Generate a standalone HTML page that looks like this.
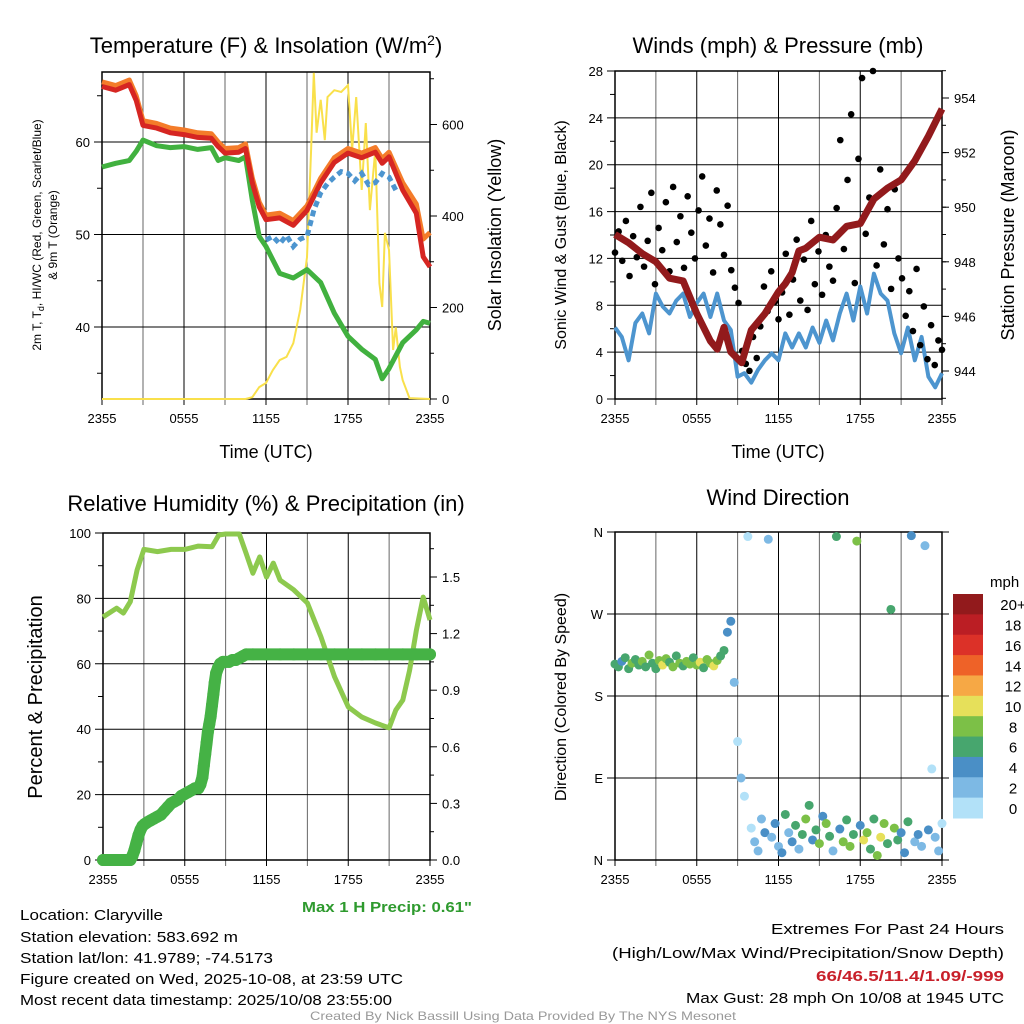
<!DOCTYPE html>
<html><head><meta charset="utf-8"><style>
html,body{margin:0;padding:0;background:#fff;}
svg{display:block;font-family:"Liberation Sans",Arial,sans-serif;}
</style></head><body>
<svg id="fig" width="1024" height="1024" viewBox="0 0 1024 1024" xmlns="http://www.w3.org/2000/svg">
<g id="static">
<text x="266" y="53" font-size="22" text-anchor="middle">Temperature (F) &amp; Insolation (W/m<tspan dy="-8" font-size="14">2</tspan><tspan dy="8">)</tspan></text>
<text x="778" y="53" font-size="22" text-anchor="middle">Winds (mph) &amp; Pressure (mb)</text>
<text x="266" y="511" font-size="22" text-anchor="middle">Relative Humidity (%) &amp; Precipitation (in)</text>
<text x="778" y="505" font-size="22" text-anchor="middle">Wind Direction</text>
<text x="266" y="458" font-size="18" text-anchor="middle">Time (UTC)</text>
<text x="778" y="458" font-size="18" text-anchor="middle">Time (UTC)</text>
<text transform="translate(41,235) rotate(-90)" font-size="12" text-anchor="middle">2m T, T<tspan font-size="9" dy="3">d</tspan><tspan dy="-3">, HI/WC (Red, Green, Scarlet/Blue)</tspan></text>
<text transform="translate(57,235) rotate(-90)" font-size="12" text-anchor="middle">&amp; 9m T (Orange)</text>
<text transform="translate(501,235) rotate(-90)" font-size="18" text-anchor="middle">Solar Insolation (Yellow)</text>
<text transform="translate(566,235) rotate(-90)" font-size="16" text-anchor="middle">Sonic Wind &amp; Gust (Blue, Black)</text>
<text transform="translate(1014,235) rotate(-90)" font-size="18" text-anchor="middle">Station Pressure (Maroon)</text>
<text transform="translate(42,697) rotate(-90)" font-size="20" text-anchor="middle">Percent &amp; Precipitation</text>
<text transform="translate(566,697) rotate(-90)" font-size="16" text-anchor="middle">Direction (Colored By Speed)</text>
<text x="472" y="912" font-size="15" font-weight="bold" fill="#2e9a2e" text-anchor="end" textLength="170" lengthAdjust="spacingAndGlyphs">Max 1 H Precip: 0.61"</text>
<g font-size="15">
<text x="20" y="920" textLength="143" lengthAdjust="spacingAndGlyphs">Location: Claryville</text>
<text x="20" y="942" textLength="218" lengthAdjust="spacingAndGlyphs">Station elevation: 583.692 m</text>
<text x="20" y="963" textLength="253" lengthAdjust="spacingAndGlyphs">Station lat/lon: 41.9789; -74.5173</text>
<text x="20" y="984" textLength="383" lengthAdjust="spacingAndGlyphs">Figure created on Wed, 2025-10-08, at 23:59 UTC</text>
<text x="20" y="1005" textLength="372" lengthAdjust="spacingAndGlyphs">Most recent data timestamp: 2025/10/08 23:55:00</text>
</g>
<g font-size="15" text-anchor="end">
<text x="1024" dx="-20" y="934" textLength="233" lengthAdjust="spacingAndGlyphs">Extremes For Past 24 Hours</text>
<text x="1024" dx="-20" y="958" textLength="392" lengthAdjust="spacingAndGlyphs">(High/Low/Max Wind/Precipitation/Snow Depth)</text>
<text x="1024" dx="-20" y="981" fill="#c8202a" font-weight="bold" textLength="188" lengthAdjust="spacingAndGlyphs">66/46.5/11.4/1.09/-999</text>
<text x="1024" dx="-20" y="1003" textLength="318" lengthAdjust="spacingAndGlyphs">Max Gust: 28 mph On 10/08 at 1945 UTC</text>
</g>
<text x="523" y="1020" font-size="12" fill="#999" text-anchor="middle" textLength="426" lengthAdjust="spacingAndGlyphs">Created By Nick Bassill Using Data Provided By The NYS Mesonet</text>
<text x="990" y="587" font-size="15">mph</text>
</g>
</svg>
<script>
// ===== DATA =====
var timeLabels = ["2355","0555","1155","1755","2355"];
// Panel 1
var tempT = [0,1,2,2.5,3,4,5,6,7,8,8.5,9,10,10.5,11,11.5,12,13,14,15,16,17,18,19,20,20.5,21,22,23,23.5,24];
var temp2m = [66.0,65.6,66.2,64.5,61.8,61.5,61.0,60.8,60.5,60.4,59.5,58.8,58.9,59.3,55.6,53.0,51.6,51.8,51.0,52.6,55.6,57.8,58.8,58.3,58.9,57.7,58.4,54.8,52.3,47.6,46.5];
var temp9m = [66.5,66.1,66.7,65.0,62.3,62.0,61.5,61.3,61.0,60.9,60.0,59.3,59.4,59.8,56.1,53.5,52.1,52.3,51.5,53.1,56.1,58.3,59.3,58.8,59.4,58.2,58.9,55.6,53.3,49.5,50.2];
var dewpt = [57.3,57.7,58.0,59.0,60.2,59.6,59.4,59.5,59.2,59.4,58.0,58.3,58.0,58.4,53.7,49.8,48.7,45.8,45.3,46.2,44.8,41.5,39.0,37.6,36.5,34.4,35.5,38.3,39.7,40.6,40.4];
var hiwcT = [12,12.5,13,13.5,14,14.5,15,15.5,16,16.5,17,17.5,18,18.5,19,19.5,20,20.5,21,21.5];
var hiwc = [49.4,49.8,49.0,49.9,48.7,49.5,49.8,52.6,54.5,55.5,56.2,56.8,56.6,55.8,56.6,55.4,55.6,56.6,56.2,54.8];
var solarT = [0,10.5,11,11.5,12,12.5,13,13.5,14,14.5,15,15.3,15.5,15.7,16,16.3,16.5,17,17.5,18,18.3,18.6,19,19.3,19.6,20,20.3,20.5,20.7,21,21.3,21.5,21.8,22,22.5,24];
var solarV = [0,0,4,26,35,63,85,92,122,195,310,544,713,582,654,566,660,675,671,686,544,660,457,603,413,544,253,201,363,326,107,157,70,41,2,0];
var tempTicks = [40,50,60];
var solarTicks = [0,200,400,600];
// Panel 2
var windV = [6.1,5.3,3.3,6.5,7.3,5.6,9.0,7.9,7.3,8.4,9.0,7.0,8.2,9.0,7.0,9.0,6.7,5.9,1.9,2.2,1.4,2.5,3.3,3.9,3.3,5.6,4.4,5.6,4.4,6.1,4.8,6.7,5.0,7.3,9.0,6.7,9.6,7.3,10.7,9.0,8.4,5.6,3.9,6.1,3.3,5.3,1.9,1.0,2.2];
var pressT = [0,1,2,3,4,5,6,7,7.5,8,8.5,9.3,10,11,12,12.5,13,13.5,14,15,16,17,18,19,20,21,22,23,24];
var pressV = [949.0,948.7,948.3,948.0,947.4,947.3,946.1,945.1,944.8,945.6,944.7,944.3,945.5,946.1,946.9,947.2,947.6,948.4,948.5,948.9,948.8,949.3,949.4,950.3,950.7,951.0,951.7,952.6,953.6];
var gustV = [12.5,14.3,11.8,15.2,10.5,13.9,12.1,16.4,11.3,13.5,17.6,9.8,14.6,12.7,16.8,10.9,18.1,13.4,15.6,11.2,17.3,14.2,12.0,16.1,19.0,13.1,15.4,10.8,17.8,14.9,12.3,16.5,11.0,9.5,8.2,4.1,3.0,2.4,5.3,3.5,6.2,9.6,7.5,10.9,8.3,6.8,9.1,12.4,7.2,10.2,13.6,8.4,11.9,7.6,15.2,9.8,12.6,8.9,14.0,11.3,10.1,16.3,22.1,12.8,18.7,24.3,9.9,20.5,27.4,14.1,17.2,28.0,11.4,19.6,13.2,16.2,9.4,17.9,12.0,10.3,7.1,9.2,5.8,11.1,4.6,7.9,3.4,6.3,2.9,5.0,4.2];
var windTicks = [0,4,8,12,16,20,24,28];
var pressTicks = [944,946,948,950,952,954];
// Panel 3
var rhT = [0,1,1.5,2,2.5,3,4,5,6,7,8,8.5,9,10,10.5,11,11.5,12,12.5,13,14,15,16,17,18,19,20,21,21.5,22,22.5,23,23.5,24];
var rhV = [74.3,77,75.5,79,88.7,95,94.3,95,95,96,95.8,99.4,99.7,99.7,93.8,87.7,92.7,86.5,90.8,85.6,82.6,78.6,68.2,56,46.8,43.7,41.9,40.4,45.9,48.9,58,70.3,80.4,73.4];
var precipT = [0,0.25,0.5,0.75,1,1.25,1.5,1.75,2,2.15,2.3,2.45,2.6,2.75,2.9,3.05,3.25,3.5,3.75,4,4.25,4.5,4.75,5,5.25,5.5,5.75,6,6.25,6.5,6.75,7,7.15,7.3,7.4,7.5,7.6,7.7,7.8,7.9,8.0,8.1,8.2,8.3,8.45,8.6,8.8,9,9.25,9.5,9.75,10,10.25,10.5,11,12,13,14,15,16,17,18,19,20,21,22,23,24];
var precipV = [0,0,0,0,0,0,0,0,0,0.02,0.05,0.09,0.13,0.16,0.18,0.19,0.20,0.21,0.22,0.23,0.24,0.26,0.28,0.30,0.31,0.32,0.34,0.35,0.36,0.37,0.38,0.38,0.40,0.44,0.50,0.56,0.62,0.68,0.72,0.76,0.82,0.88,0.94,0.99,1.02,1.04,1.05,1.05,1.05,1.06,1.06,1.07,1.08,1.09,1.09,1.09,1.09,1.09,1.09,1.09,1.09,1.09,1.09,1.09,1.09,1.09,1.09,1.09];
var rhTicks = [0,20,40,60,80,100];
var precipTicks = ["0.0","0.3","0.6","0.9","1.2","1.5"];
// Panel 4
var dirV = [215,212,218,222,210,216,220,214,218,212,225,216,210,219,214,221,217,212,224,216,213,218,215,222,214,217,211,220,216,213,219,224,230,250,262,195,130,90,70,355,35,20,10,45,30,352,25,40,15,8,50,30,20,38,12,28,45,60,22,33,18,48,40,26,10,355,34,20,44,15,28,350,38,22,30,12,45,5,25,40,18,275,35,22,30,8,42,356,20,28,15,345,33,100,25,10,40];
var dirSpd = [6,7,4,7,6,8,7,6,9,7,8,6,7,9,10,8,7,9,6,8,7,8,9,7,8,10,7,8,9,10,8,7,6,4,4,2,0,3,1,1,1,2,3,2,4,3,2,5,3,4,6,2,5,7,3,6,8,6,4,7,9,5,8,7,3,6,5,8,6,9,7,8,5,10,8,6,7,9,10,8,6,6,9,7,5,4,6,4,3,5,2,3,4,1,3,2,1];
var dirLabels = ["N","E","S","W","N"];
var speedBins = ["0","2","4","6","8","10","12","14","16","18","20+"];
var speedColors = ["#b2e1f8","#7db9e4","#4a8fc6","#47a66e","#7cc047","#e6e05a","#f6a845","#ee6228","#dc3128","#bb1e24","#921a1c"];

// ===== DRAWING =====
var NS="http://www.w3.org/2000/svg", svg=document.getElementById('fig');
function mk(tag,attrs,parent){var e=document.createElementNS(NS,tag);for(var k in attrs)e.setAttribute(k,attrs[k]);(parent||svg).appendChild(e);return e;}
function linScale(d0,d1,r0,r1){return function(v){return r0+(v-d0)*(r1-r0)/(d1-d0);};}
function pathFrom(ts,vs,xs,ys){var d="";for(var i=0;i<vs.length;i++){if(vs[i]==null)continue;d+=(d?"L":"M")+xs(ts[i]).toFixed(1)+","+ys(vs[i]).toFixed(1);}return d;}
function evenT(n){var a=[];for(var i=0;i<n;i++)a.push(i*24/(n-1));return a;}

function frame(P,name){
  var g=mk('g',{});
  
  
  for(var h=0;h<=24;h+=3){var x=P.xs(h);
    var l=mk('line',{x1:x,x2:x,y1:P.y0,y2:P.y1+6,stroke:(h%6==0?'#000':'#666'),'stroke-width':1},g);
    
    
  }
  for(var i=0;i<timeLabels.length;i++){
    var t=mk('text',{x:P.xs(i*6),y:P.y1+24,'font-size':13,'text-anchor':'middle'},g);t.textContent=timeLabels[i];
    
    
  }
  return g;
}
function border(P,g){mk('rect',{x:P.x0,y:P.y0,width:P.x1-P.x0,height:P.y1-P.y0,fill:'none',stroke:'#000','stroke-width':1.5},g);}
function leftAxis(P,g,vals,labels,ys){
  for(var i=0;i<vals.length;i++){var y=ys(vals[i]);
    var l=mk('line',{x1:P.x0-8,x2:P.x1,y1:y,y2:y,stroke:'#000','stroke-width':1},g);
    
    
    var t=mk('text',{x:P.x0-12,y:y+5,'font-size':13,'text-anchor':'end'},g);t.textContent=labels[i];
    
    
  }
}
function rightAxis(P,g,vals,labels,ys){
  for(var i=0;i<vals.length;i++){var y=ys(vals[i]);
    mk('line',{x1:P.x1,x2:P.x1+7,y1:y,y2:y,stroke:'#000','stroke-width':1},g);
    var t=mk('text',{x:P.x1+12,y:y+5,'font-size':13},g);t.textContent=labels[i];
    
    
  }
}

// Panel 1
var P1={x0:102,x1:430,y0:72,y1:399};P1.xs=linScale(0,24,102,430);
var y1T=linScale(40,60,327,142), y1S=linScale(0,200,399,307.5);
var g1=frame(P1,'temp');
leftAxis(P1,g1,tempTicks,tempTicks,y1T);
for(var v=35;v<=65;v+=10)mk('line',{x1:P1.x0-5,x2:P1.x0,y1:y1T(v),y2:y1T(v),stroke:'#000'},g1);
rightAxis(P1,g1,solarTicks,solarTicks,y1S);
for(var v=100;v<=700;v+=200)mk('line',{x1:P1.x1,x2:P1.x1+4,y1:y1S(v),y2:y1S(v),stroke:'#000'},g1);
var s=mk('path',{d:pathFrom(solarT,solarV,P1.xs,y1S),fill:'none',stroke:'#f9e04b','stroke-width':2});


s=mk('path',{d:pathFrom(tempT,dewpt,P1.xs,y1T),fill:'none',stroke:'#41b13f','stroke-width':5,'stroke-linejoin':'round'});


s=mk('path',{d:pathFrom(tempT,temp9m,P1.xs,y1T),fill:'none',stroke:'#f47c2a','stroke-width':5,'stroke-linejoin':'round'});


s=mk('path',{d:pathFrom(tempT,temp2m,P1.xs,y1T),fill:'none',stroke:'#d62622','stroke-width':5,'stroke-linejoin':'round'});


s=mk('path',{d:pathFrom(hiwcT,hiwc,P1.xs,y1T),fill:'none',stroke:'#4d95cf','stroke-width':5,'stroke-dasharray':'6 4'});


border(P1,g1);

// Panel 2
var P2={x0:615,x1:942,y0:71,y1:399};P2.xs=linScale(0,24,615,942);
var y2W=linScale(0,28,399,71), y2P=linScale(944,954,371,98);
var g2=frame(P2,'wind');
leftAxis(P2,g2,windTicks,windTicks,y2W);
for(var v=2;v<=26;v+=4)mk('line',{x1:P2.x0-5,x2:P2.x0,y1:y2W(v),y2:y2W(v),stroke:'#000'},g2);
rightAxis(P2,g2,pressTicks,pressTicks,y2P);
for(var v=943;v<=955;v+=1)mk('line',{x1:P2.x1,x2:P2.x1+4,y1:y2P(v),y2:y2P(v),stroke:'#000'},g2);
s=mk('path',{d:pathFrom(evenT(windV.length),windV,P2.xs,y2W),fill:'none',stroke:'#4d95cf','stroke-width':4,'stroke-linejoin':'round'});


var gustT=evenT(gustV.length);
for(var i=0;i<gustV.length;i++){var c=mk('circle',{cx:P2.xs(gustT[i]),cy:y2W(gustV[i]),r:3.3,fill:'#000'});
  
  }
s=mk('path',{d:pathFrom(pressT,pressV,P2.xs,y2P),fill:'none',stroke:'#921a1c','stroke-width':7,'stroke-linejoin':'round'});


border(P2,g2);

// Panel 3
var P3={x0:103,x1:430,y0:533,y1:860};P3.xs=linScale(0,24,103,430);
var y3R=linScale(0,100,860,533), y3P=linScale(0,0.3,860,803.4);
var g3=frame(P3,'rh');
leftAxis(P3,g3,rhTicks,rhTicks,y3R);
for(var v=10;v<=90;v+=20)mk('line',{x1:P3.x0-5,x2:P3.x0,y1:y3R(v),y2:y3R(v),stroke:'#000'},g3);
rightAxis(P3,g3,precipTicks.map(Number),precipTicks,y3P);
for(var v=0.15;v<=1.7;v+=0.3)mk('line',{x1:P3.x1,x2:P3.x1+4,y1:y3P(v),y2:y3P(v),stroke:'#000'},g3);
s=mk('path',{d:pathFrom(rhT,rhV,P3.xs,y3R),fill:'none',stroke:'#8dc94e','stroke-width':5,'stroke-linejoin':'round'});


for(var i=0;i<precipV.length;i++){var c=mk('circle',{cx:P3.xs(precipT[i]),cy:y3P(precipV[i]),r:6,fill:'#45b245'});
  
  }
var pl=mk('path',{d:pathFrom(precipT,precipV,P3.xs,y3P),fill:'none',stroke:'#45b245','stroke-width':12,'stroke-linejoin':'round','stroke-linecap':'round'});


border(P3,g3);

// Panel 4
var P4={x0:615,x1:942,y0:532,y1:860};P4.xs=linScale(0,24,615,942);
var y4D=linScale(0,360,860,532);
var g4=frame(P4,'dir');
leftAxis(P4,g4,[0,90,180,270,360],dirLabels,y4D);
for(var i=0;i<5;i++){mk('line',{x1:P4.x1,x2:P4.x1+7,y1:y4D(i*90),y2:y4D(i*90),stroke:'#000'},g4);}
var dT=evenT(dirV.length);
for(var i=0;i<dirV.length;i++){var bi=Math.min(10,Math.floor(dirSpd[i]/2));
  var c=mk('circle',{cx:P4.xs(dT[i]),cy:y4D(dirV[i]),r:4.5,fill:speedColors[bi]});
  
  }
border(P4,g4);
// colorbar
var cb=mk('g',{});


var cbTop=594, cbH=224/speedBins.length;
for(var i=0;i<speedBins.length;i++){var k=speedBins.length-1-i;
  mk('rect',{x:953,y:cbTop+i*cbH,width:30,height:cbH+0.5,fill:speedColors[k]},cb);
  var t=mk('text',{x:1013,y:cbTop+i*cbH+cbH/2+6,'font-size':15,'text-anchor':'middle'},cb);t.textContent=speedBins[k];
  
  
}
</script>
</body></html>
